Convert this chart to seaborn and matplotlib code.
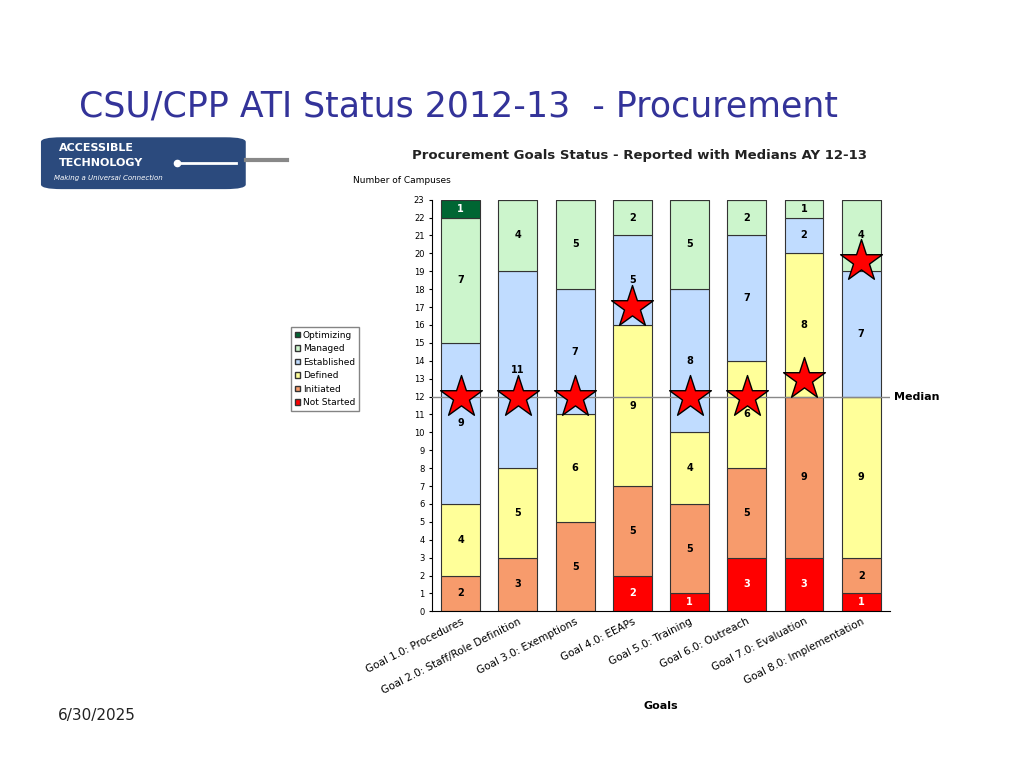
import matplotlib
matplotlib.use("Agg")
import matplotlib.pyplot as plt
import seaborn as sns
import pandas as pd
from matplotlib.patches import FancyBboxPatch, Patch

goals = ["Goal 1.0: Procedures", "Goal 2.0: Staff/Role Definition", "Goal 3.0: Exemptions",
         "Goal 4.0: EEAPs", "Goal 5.0: Training", "Goal 6.0: Outreach",
         "Goal 7.0: Evaluation", "Goal 8.0: Implementation"]
not_started = [0, 0, 0, 2, 1, 3, 3, 1]
initiated   = [2, 3, 5, 5, 5, 5, 9, 2]
defined     = [4, 5, 6, 9, 4, 6, 8, 9]
established = [9, 11, 7, 5, 8, 7, 2, 7]
managed     = [7, 4, 5, 2, 5, 2, 1, 4]
optimizing  = [1, 0, 0, 0, 0, 0, 0, 0]
medians     = [12, 12, 12, 17, 12, 12, 13, 19.6]
median_line = 12

series = [("Not Started", not_started, "#ff0000"),
          ("Initiated", initiated, "#f79b6c"),
          ("Defined", defined, "#ffff99"),
          ("Established", established, "#c0dcff"),
          ("Managed", managed, "#ccf5cc"),
          ("Optimizing", optimizing, "#006633")]

fig = plt.figure(figsize=(10.24, 7.68), dpi=100)
fig.patch.set_facecolor("white")
ax = fig.add_axes([0.422, 0.204, 0.447, 0.536])

bottom = [0] * len(goals)
for name, vals, col in series:
    df = pd.DataFrame({"goal": goals, "v": vals})
    sns.barplot(data=df, x="goal", y="v", color=col, bottom=bottom, width=0.68,
                edgecolor="#333333", linewidth=0.8, ax=ax, saturation=1)
    for i, v in enumerate(vals):
        if v > 0:
            tc = "white" if name in ("Not Started", "Optimizing") else "black"
            ax.text(i, bottom[i] + v / 2, str(v), ha="center", va="center",
                    fontsize=7, fontweight="bold", color=tc)
    bottom = [b + v for b, v in zip(bottom, vals)]

ax.axhline(median_line, color="#888888", lw=1, zorder=5)
ax.text(1.01, median_line, "Median", transform=ax.get_yaxis_transform(),
        fontsize=8, fontweight="bold", va="center", ha="left")
ax.scatter(range(len(goals)), medians, marker="*", s=1000, color="#ff0000",
           edgecolor="black", linewidth=1, zorder=10)

ax.set_ylim(0, 23)
ax.set_xlim(-0.5, 7.5)
ax.set_yticks(range(0, 24))
ax.tick_params(axis="y", labelsize=6, length=2)
ax.set_xticks(range(len(goals)))
ax.set_xticklabels(goals, rotation=27, ha="right", fontsize=7.5, rotation_mode="anchor")
ax.tick_params(axis="x", length=0)
ax.set_xlabel("Goals", fontsize=8, fontweight="bold")
ax.set_ylabel("")
for s in ["top", "right"]:
    ax.spines[s].set_visible(False)
ax.set_facecolor("white")

fig.text(0.345, 0.762, "Number of Campuses", fontsize=6.5)
fig.text(0.625, 0.793, "Procurement Goals Status - Reported with Medians AY 12-13",
         fontsize=9.5, fontweight="bold", ha="center", color="#222222")
fig.text(0.077, 0.848, "CSU/CPP ATI Status 2012-13  - Procurement",
         fontsize=25, color="#333399")
fig.text(0.057, 0.063, "6/30/2025", fontsize=11, color="#222222")

handles = [Patch(facecolor=c, edgecolor="#333333", label=n) for n, _, c in series][::-1]
fig.legend(handles=handles, loc="upper left", bbox_to_anchor=(0.28, 0.58),
           fontsize=6.5, frameon=True, edgecolor="#666666", fancybox=False,
           handlelength=0.6, handleheight=0.6, handletextpad=0.3, labelspacing=0.5,
           borderpad=0.4)

# logo
la = fig.add_axes([0.035, 0.75, 0.25, 0.075])
la.axis("off")
la.set_xlim(0, 1); la.set_ylim(0, 1)
la.add_patch(FancyBboxPatch((0.02, 0.05), 0.8, 0.9, boxstyle="round,pad=0,rounding_size=0.08",
                            facecolor="#2b4a7d", edgecolor="none"))
la.plot([0.82, 0.98], [0.55, 0.55], color="#888888", lw=3)
la.text(0.09, 0.76, "ACCESSIBLE", color="white", fontsize=8, fontweight="bold", va="center")
la.text(0.09, 0.5, "TECHNOLOGY", color="white", fontsize=8, fontweight="bold", va="center")
la.text(0.07, 0.24, "Making a Universal Connection", color="white", fontsize=5,
        style="italic", va="center")
la.plot([0.55, 0.78], [0.5, 0.5], color="white", lw=2)
la.scatter([0.55], [0.5], color="white", s=20)

fig.savefig("out.png", dpi=100)
